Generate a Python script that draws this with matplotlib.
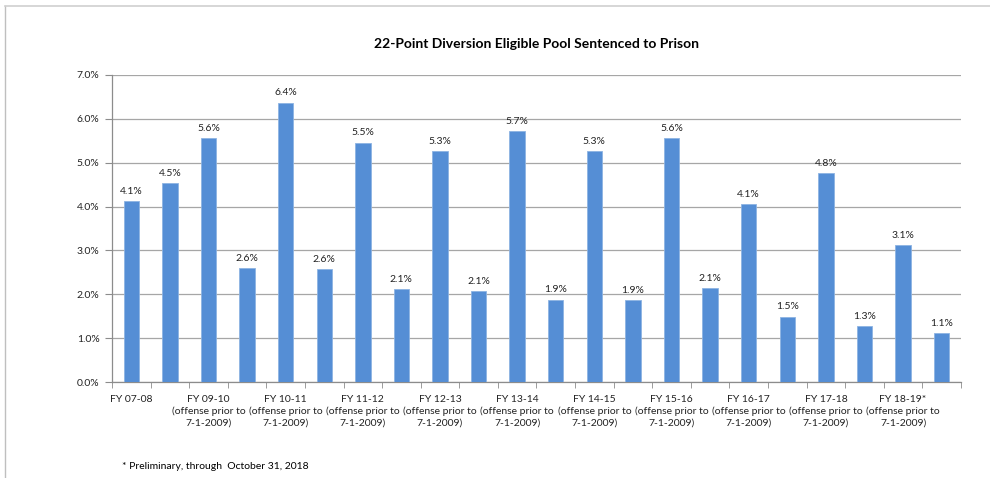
import matplotlib.pyplot as plt
from matplotlib.lines import Line2D
import numpy as np

plt.rcParams['font.family'] = ['Lato', 'DejaVu Sans']

# share of the pool sentenced to prison (%), one value per bar
values = [4.12, 4.53, 5.56, 2.60, 6.37, 2.58, 5.46, 2.12, 5.26, 2.07, 5.72,
          1.88, 5.26, 1.86, 5.56, 2.14, 4.06, 1.49, 4.76, 1.27, 3.12, 1.12]
# only every other category label is shown on the axis
shown_labels = [
    "FY 07-08",
    "FY 09-10\n(offense prior to\n7-1-2009)",
    "FY 10-11\n(offense prior to\n7-1-2009)",
    "FY 11-12\n(offense prior to\n7-1-2009)",
    "FY 12-13\n(offense prior to\n7-1-2009)",
    "FY 13-14\n(offense prior to\n7-1-2009)",
    "FY 14-15\n(offense prior to\n7-1-2009)",
    "FY 15-16\n(offense prior to\n7-1-2009)",
    "FY 16-17\n(offense prior to\n7-1-2009)",
    "FY 17-18\n(offense prior to\n7-1-2009)",
    "FY 18-19*\n(offense prior to\n7-1-2009)",
]
title = "22-Point Diversion Eligible Pool Sentenced to Prison"
footnote = "* Preliminary, through  October 31, 2018"

fig = plt.figure(figsize=(9.9, 4.78), dpi=100)
ax = fig.add_axes([0.1131, 0.2008, 0.8576, 0.6423])

x = np.arange(len(values))
ax.bar(x, values, width=0.4, color="#558ed5", edgecolor="#8db3e2", linewidth=0.6, zorder=3)
for xi, v in zip(x, values):
    ax.text(xi, v + 0.12, f"{v:.1f}%", ha="center", va="bottom", fontsize=7.5, color="#222222")

ax.set_xlim(-0.5, len(values) - 0.5)
ax.set_ylim(0, 7)
ax.set_yticks(np.arange(0, 7.01, 1.0))
ax.set_yticklabels([f"{t:.1f}%" for t in np.arange(0, 7.01, 1.0)], fontsize=7.5, color="#222222")
ax.yaxis.grid(True, color="#a6a6a6", linewidth=0.9, zorder=0)

ax.set_xticks(x[::2])
ax.set_xticklabels(shown_labels, fontsize=7.5, color="#222222", linespacing=1.35)
ax.set_xticks(np.arange(-0.5, len(values), 1.0), minor=True)
ax.tick_params(axis="x", which="major", length=0, pad=9)
ax.tick_params(axis="x", which="minor", length=4, color="#8c8c8c")
ax.tick_params(axis="y", length=5, color="#8c8c8c", pad=4)

for s in ["top", "right"]:
    ax.spines[s].set_visible(False)
for s in ["left", "bottom"]:
    ax.spines[s].set_color("#8c8c8c")
    ax.spines[s].set_linewidth(0.9)

fig.text(0.542, 0.908, title, ha="center", va="center", fontsize=10, fontweight="bold")
fig.text(0.123, 0.025, footnote, ha="left", va="center", fontsize=7.5)

# outer frame (left and top edges visible)
fig.add_artist(Line2D([0.005, 0.005], [0.0, 0.987], color="#bfbfbf", linewidth=1.0))
fig.add_artist(Line2D([0.005, 1.0], [0.987, 0.987], color="#d0d0d0", linewidth=1.2))

fig.savefig("out.png", dpi=100)
